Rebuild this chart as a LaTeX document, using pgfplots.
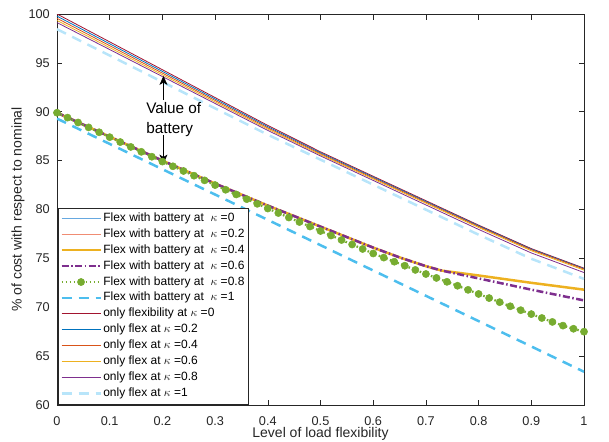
\documentclass[border=0pt]{standalone}
\usepackage{fontspec}
\setmainfont{Liberation Sans}
\usepackage{pgfplots}
\pgfplotsset{compat=1.18}
\usetikzlibrary{arrows.meta,calc}

\definecolor{axgray}{rgb}{0.15,0.15,0.15}
\definecolor{bk0}{rgb}{0.40,0.66,0.88}
\definecolor{bk2}{rgb}{0.94,0.55,0.45}
\definecolor{myyellow}{rgb}{0.929,0.694,0.125}
\definecolor{mypurple}{rgb}{0.494,0.184,0.556}
\definecolor{mygreen}{rgb}{0.466,0.674,0.188}
\definecolor{mylblue}{rgb}{0.301,0.745,0.933}
\definecolor{mydred}{rgb}{0.635,0.078,0.184}
\definecolor{myblue}{rgb}{0,0.447,0.741}
\definecolor{myorange}{rgb}{0.85,0.325,0.098}
\definecolor{mycyan}{rgb}{0.72,0.90,0.98}

\begin{document}
\begin{tikzpicture}
\begin{axis}[
  scale only axis, width=527bp, height=391bp,
  xmin=0, xmax=1, ymin=60, ymax=100,
  xtick={0,0.1,0.2,0.3,0.4,0.5,0.6,0.7,0.8,0.9,1},
  ytick={60,65,70,75,80,85,90,95,100},
  tick align=inside, major tick length=5.5bp,
  axis line style={axgray, line width=0.6bp},
  tick style={axgray, line width=0.6bp},
  /pgf/number format/assume math mode=true,
  ticklabel style={font=\fontsize{12.7bp}{15bp}\selectfont, text=axgray},
  xticklabel style={anchor=base, inner sep=0pt, yshift=-20.5bp},
  yticklabel style={anchor=east, inner sep=0pt, xshift=-7bp},
  xlabel={Level of load flexibility},
  ylabel={\% of cost with respect to nominal},
  every axis x label/.style={at={(axis description cs:0.5,-0.0838)}, anchor=base, inner sep=0pt, font=\fontsize{14bp}{17bp}\selectfont, text=axgray},
  every axis y label/.style={at={(axis description cs:-0.074,0.5)}, rotate=90, anchor=center, font=\fontsize{14bp}{17bp}\selectfont, text=axgray},
  legend cell align=left,
  legend image code/.code={\draw[mark repeat=2,mark phase=2,#1] plot coordinates {(0bp,0bp) (19.5bp,0bp) (39bp,0bp)};},
  legend style={
    at={(axis description cs:0.002,0.0025)}, anchor=south west,
    draw=axgray, line width=0.5bp, fill=white,
    font=\fontsize{12bp}{13bp}\selectfont, text=black,
    inner xsep=2bp, inner ysep=2.5bp, row sep=0pt,
    nodes={text height=9bp, text depth=3bp, inner ysep=1.95bp, inner xsep=1.5bp},
  },
]
% ---- Flex with battery ----
\addplot[bk0, draw=bk0, line width=0.8bp] coordinates {(0,89.9)(0.1,87.45)(0.2,85.0)(0.3,82.65)(0.4,80.4)(0.5,78.25)(0.6,76.1)(0.65,75.1)(0.7,74.2)(0.73,73.75)(0.8,73.25)(0.9,72.5)(1,71.8)};
\addlegendentry{Flex with battery at\ \ $\kappa$ =0}
\addplot[bk2, draw=bk2, line width=0.8bp] coordinates {(0,89.9)(0.1,87.45)(0.2,85.0)(0.3,82.65)(0.4,80.4)(0.5,78.25)(0.6,76.1)(0.65,75.1)(0.7,74.2)(0.73,73.75)(0.8,73.25)(0.9,72.5)(1,71.8)};
\addlegendentry{Flex with battery at\ \ $\kappa$ =0.2}
\addplot[myyellow, draw=myyellow, line width=2.5bp] coordinates {(0,89.9)(0.1,87.45)(0.2,85.0)(0.3,82.65)(0.4,80.4)(0.5,78.25)(0.6,76.1)(0.65,75.1)(0.7,74.2)(0.73,73.75)(0.8,73.25)(0.9,72.5)(1,71.8)};
\addlegendentry{Flex with battery at\ \ $\kappa$ =0.4}
\addplot[mypurple, draw=mypurple, line width=2.5bp, dash pattern=on 7bp off 2.5bp on 1.5bp off 2.5bp] coordinates {(0,89.9)(0.1,87.45)(0.2,85.0)(0.3,82.65)(0.4,80.4)(0.5,78.25)(0.6,76.1)(0.65,75.1)(0.7,74.2)(0.73,73.75)(0.8,72.95)(0.9,71.8)(1,70.7)};
\addlegendentry{Flex with battery at\ \ $\kappa$ =0.6}
\addplot[mygreen, draw=mygreen, line width=2.2bp, dash pattern=on 1.6bp off 2.4bp, mark=*, mark size=3.6bp, mark options={solid, fill=mygreen, draw=mygreen, line width=0.5bp}] coordinates {
(0,89.9)(0.02,89.4)(0.04,88.9)(0.06,88.4)(0.08,87.9)(0.1,87.4)(0.12,86.9)(0.14,86.4)(0.16,85.9)(0.18,85.4)
(0.2,84.9)(0.22,84.42)(0.24,83.94)(0.26,83.46)(0.28,82.98)(0.3,82.5)(0.32,82.02)(0.34,81.54)(0.36,81.06)(0.38,80.58)
(0.4,80.1)(0.42,79.64)(0.44,79.18)(0.46,78.72)(0.48,78.26)(0.5,77.8)(0.52,77.34)(0.54,76.88)(0.56,76.42)(0.58,75.96)
(0.6,75.5)(0.62,75.08)(0.64,74.66)(0.66,74.25)(0.68,73.82)(0.7,73.4)(0.72,73.0)(0.74,72.6)(0.76,72.2)(0.78,71.78)
(0.8,71.36)(0.82,70.94)(0.84,70.52)(0.86,70.1)(0.88,69.7)(0.9,69.3)(0.92,68.9)(0.94,68.5)(0.96,68.12)(0.98,67.8)(1,67.5)};
\addlegendentry{Flex with battery at\ \ $\kappa$ =0.8}
\addplot[mylblue, draw=mylblue, line width=2.5bp, dash pattern=on 10bp off 7bp] coordinates {(0,89.3)(0.1,86.71)(0.2,84.12)(0.3,81.53)(0.4,78.94)(0.5,76.35)(0.6,73.76)(0.7,71.17)(0.8,68.58)(0.9,65.99)(1,63.4)};
\addlegendentry{Flex with battery at\ \ $\kappa$ =1}
% ---- only flexibility ----
\addplot[mydred, draw=mydred, line width=0.8bp] coordinates {(0,100)(0.1,97.15)(0.2,94.3)(0.3,91.45)(0.4,88.6)(0.5,85.9)(0.6,83.4)(0.7,80.9)(0.8,78.4)(0.9,76.0)(1,74.0)};
\addlegendentry{only flexibility at $\kappa$ =0}
\addplot[myblue, draw=myblue, line width=0.8bp] coordinates {(0,99.78)(0.1,96.954)(0.2,94.128)(0.3,91.302)(0.4,88.476)(0.5,85.80)(0.6,83.31)(0.7,80.82)(0.8,78.33)(0.9,75.94)(1,73.95)};
\addlegendentry{only flex at $\kappa$ =0.2}
\addplot[myorange, draw=myorange, line width=0.8bp] coordinates {(0,99.56)(0.1,96.758)(0.2,93.956)(0.3,91.154)(0.4,88.352)(0.5,85.70)(0.6,83.22)(0.7,80.74)(0.8,78.26)(0.9,75.88)(1,73.90)};
\addlegendentry{only flex at $\kappa$ =0.4}
\addplot[myyellow, draw=myyellow, line width=0.8bp] coordinates {(0,99.34)(0.1,96.562)(0.2,93.784)(0.3,91.006)(0.4,88.228)(0.5,85.60)(0.6,83.12)(0.7,80.64)(0.8,78.16)(0.9,75.78)(1,73.80)};
\addlegendentry{only flex at $\kappa$ =0.6}
\addplot[mypurple, draw=mypurple, line width=0.8bp] coordinates {(0,99.12)(0.1,96.362)(0.2,93.604)(0.3,90.846)(0.4,88.088)(0.5,85.48)(0.6,82.974)(0.7,80.468)(0.8,77.962)(0.9,75.556)(1,73.55)};
\addlegendentry{only flex at $\kappa$ =0.8}
\addplot[mycyan, draw=mycyan, line width=2.5bp, dash pattern=on 10bp off 7bp] coordinates {(0,98.45)(0.1,95.75)(0.2,93.05)(0.3,90.35)(0.4,87.65)(0.5,85.10)(0.6,82.54)(0.7,79.98)(0.8,77.42)(0.9,74.96)(1,72.90)};
\addlegendentry{only flex at $\kappa$ =1}
% ---- annotation ----
\node[anchor=west, align=left, inner sep=0pt, font=\fontsize{15.3bp}{20bp}\selectfont] at (axis cs:0.169,89.2) {Value of\\battery};
\draw[-{Stealth[length=9bp,width=8bp,inset=2.5bp]}, line width=0.6bp] (axis cs:0.202,91.2) -- (axis cs:0.202,93.66);
\draw[-{Stealth[length=9bp,width=8bp,inset=2.5bp]}, line width=0.6bp] (axis cs:0.202,87.6) -- (axis cs:0.202,84.7);
\end{axis}
\pgfresetboundingbox
\path[use as bounding box] ($(current axis.south west)+(-57bp,-37bp)$) rectangle ($(current axis.north east)+(25bp,14bp)$);
\end{tikzpicture}
\end{document}
